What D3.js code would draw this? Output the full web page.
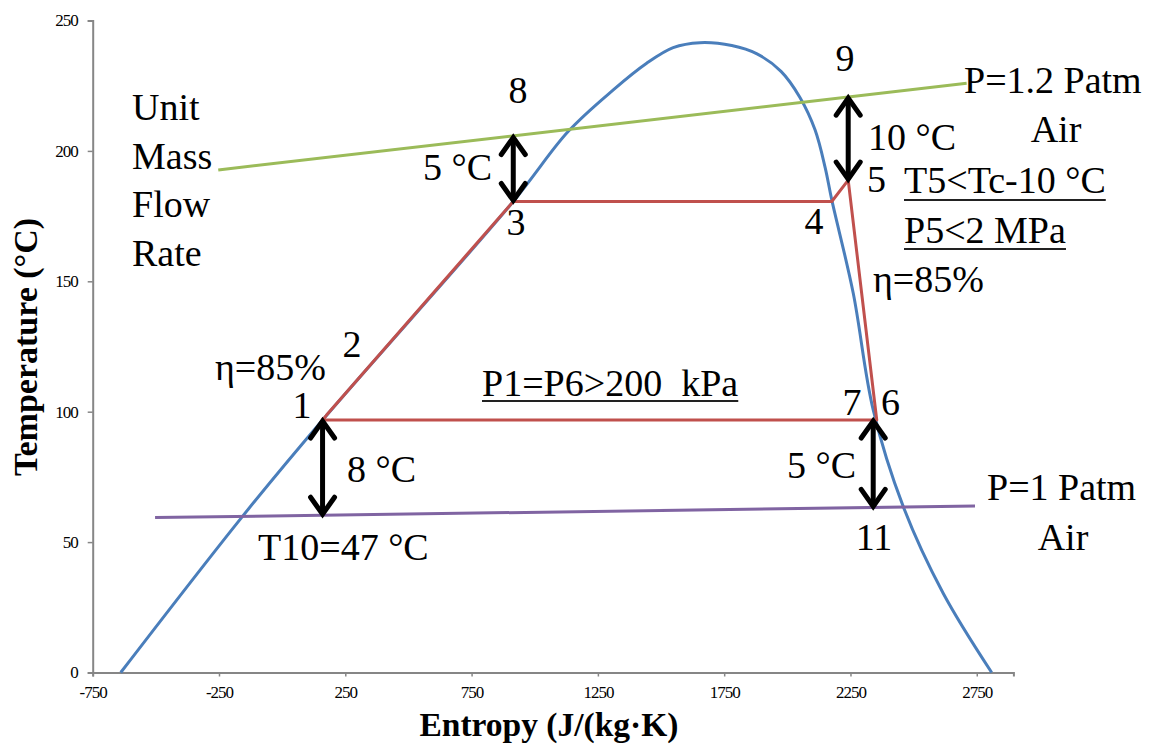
<!DOCTYPE html>
<html>
<head>
<meta charset="utf-8">
<script src="https://cdn.jsdelivr.net/npm/d3@7"></script>
<style>
  html, body { margin: 0; padding: 0; background: #fff; }
  svg { display: block; }
  svg text { font-family: "Liberation Serif", "Times New Roman", Times, "DejaVu Serif", serif; fill: #000; }
</style>
</head>
<body>
<svg id="chart" width="1153" height="746"></svg>
<script>
// Axis ticks
const xTicks = [-750, -250, 250, 750, 1250, 1750, 2250, 2750];
const yTicks = [0, 50, 100, 150, 200, 250];

// Saturation dome of the working fluid (entropy J/(kg·K), temperature °C)
const domeS = [-639, -160, 160, 915, 1133, 1311, 1443, 1548, 1654, 1780, 1880, 1975, 2050, 2110, 2150, 2176, 2261, 2340, 2459, 2617, 2809];
const domeT = [0, 59.5, 96.8, 180.6, 207.5, 223.4, 233.6, 239.6, 241.5, 240.4, 237.2, 230.5, 220.5, 208, 193.5, 181.2, 145.4, 100.7, 63.6, 30.4, 0];

// ORC cycle states 1 → 2 → 3 → 4 → 5 → 6 → 7 → 1
const cycleStates = ["1", "2", "3", "4", "5", "6", "7", "1"];
const cycleS = [160, 175, 915, 2176, 2241, 2354, 2345, 160];
const cycleT = [96.8, 98.6, 180.6, 180.6, 188.8, 96.8, 96.8, 96.8];

// Hot air stream (P = 1.2 Patm) and cold air stream (P = 1 Patm)
const hotAirS = [-253, 2710];
const hotAirT = [192.7, 225.9];
const coldAirS = [-503, 2743];
const coldAirT = [59.4, 63.8];

// Temperature differences marked with double arrows
const gapS = [160, 915, 2241, 2340];
const gapFromT = [96.8, 180.6, 188.8, 96.8];
const gapToT = [60.3, 205.5, 220.6, 63.3];

const FONT = "'Liberation Serif', 'Times New Roman', Times, 'DejaVu Serif', serif";

const svg = d3.select("#chart");

const x = d3.scaleLinear().domain([-750, 2895]).range([92.7, 1013.4]);
const y = d3.scaleLinear().domain([0, 250]).range([672.5, 20.5]);

const axisColor = "#868686";

// Y axis
const yAxis = svg.append("g")
  .attr("transform", `translate(${x(-750)},0)`)
  .call(d3.axisLeft(y).tickValues(yTicks).tickSize(5).tickPadding(10).tickFormat(d3.format("d")));
// X axis
const xAxis = svg.append("g")
  .attr("transform", `translate(0,${y(0)})`)
  .call(d3.axisBottom(x).tickValues(xTicks).tickSize(4).tickPadding(9).tickFormat(d3.format("d")));

[xAxis, yAxis].forEach(g => {
  g.attr("font-family", FONT);
  g.select(".domain").attr("stroke", axisColor).attr("stroke-width", 2);
  g.selectAll(".tick line").attr("stroke", axisColor).attr("stroke-width", 1.5);
  g.selectAll(".tick text")
    .attr("font-family", FONT)
    .style("font-family", FONT)
    .style("font-size", "17px")
    .attr("fill", "#000")
    .style("letter-spacing", "-1px");
});
// Use an ASCII hyphen for negative ticks
xAxis.selectAll(".tick text").text(d => String(d));

// Axis titles
svg.append("text")
  .attr("x", 549).attr("y", 736)
  .attr("text-anchor", "middle")
  .style("font-family", FONT)
  .style("font-size", "33.5px").style("font-weight", "bold")
  .text("Entropy (J/(kg·K)");

svg.append("text")
  .attr("transform", "translate(37,347) rotate(-90)")
  .attr("text-anchor", "middle")
  .style("font-family", FONT)
  .style("font-size", "34px").style("font-weight", "bold")
  .text("Temperature (°C)");

const line = d3.line().x(d => x(d[0])).y(d => y(d[1]));

// Saturation dome
svg.append("path")
  .datum(domeS.map((s, i) => [s, domeT[i]]))
  .attr("fill", "none")
  .attr("stroke", "#4A7EBB")
  .attr("stroke-width", 3)
  .attr("d", d3.line().x(d => x(d[0])).y(d => y(d[1])).curve(d3.curveCatmullRom.alpha(0.5)));

// Air streams
svg.append("path")
  .datum(hotAirS.map((s, i) => [s, hotAirT[i]]))
  .attr("fill", "none").attr("stroke", "#9BBB59").attr("stroke-width", 3)
  .attr("d", line);
svg.append("path")
  .datum(coldAirS.map((s, i) => [s, coldAirT[i]]))
  .attr("fill", "none").attr("stroke", "#8064A2").attr("stroke-width", 3)
  .attr("d", line);

// Cycle
svg.append("path")
  .datum(cycleS.map((s, i) => [s, cycleT[i]]))
  .attr("fill", "none").attr("stroke", "#C0504D").attr("stroke-width", 3)
  .attr("stroke-linejoin", "round")
  .attr("d", line);

// Double-headed arrows
const arrows = svg.append("g")
  .attr("stroke", "#000").attr("fill", "none")
  .attr("stroke-width", 5).attr("stroke-linecap", "round").attr("stroke-linejoin", "miter");

gapS.forEach((s, i) => {
  const px = x(s);
  const yA = y(gapFromT[i]);
  const yB = y(gapToT[i]);
  const top = Math.min(yA, yB) + 1, bot = Math.max(yA, yB) - 1;
  arrows.append("line").attr("x1", px).attr("x2", px).attr("y1", top + 2).attr("y2", bot - 2);
  arrows.append("path").attr("d", `M${px - 12},${top + 17} L${px},${top} L${px + 12},${top + 17}`);
  arrows.append("path").attr("d", `M${px - 12},${bot - 17} L${px},${bot} L${px + 12},${bot - 17}`);
});

// Annotations
const ann = svg.append("g").style("font-size", "38px").style("font-family", FONT);
function label(txt, px, py, anchor, underline) {
  const t = ann.append("text")
    .attr("x", px).attr("y", py)
    .attr("text-anchor", anchor || "start")
    .style("font-family", FONT)
    .style("white-space", "pre")
    .text(txt);
  if (underline) {
    const b = t.node().getBBox();
    ann.append("line")
      .attr("x1", b.x).attr("x2", b.x + b.width)
      .attr("y1", py + underline).attr("y2", py + underline)
      .attr("stroke", "#222").attr("stroke-width", 2);
  }
  return t;
}

["Unit", "Mass", "Flow", "Rate"].forEach((w, i) => label(w, 132, 120 + i * 48.5));

label("8", 518, 103, "middle");
label("5 °C", 423, 180);
label("3", 516, 235, "middle");
label("4", 814, 234, "middle");
label("9", 845, 71, "middle");
label("10 °C", 868, 150);
label("5", 867, 192);
label("P=1.2 Patm", 964, 93);
label("Air", 1056, 142, "middle");
label("T5<Tc-10 °C", 904, 193, "start", 7);
label("P5<2 MPa", 904, 243, "start", 6);
label("η=85%", 873, 292);
label("η=85%", 215, 380);
label("2", 352, 357, "middle");
label("1", 302, 418, "middle");
label("P1=P6>200  kPa", 482, 396, "start", 5);
label("7", 852, 415, "middle");
label("6", 881, 415);
label("8 °C", 347, 482);
label("5 °C", 787, 478);
label("P=1 Patm", 987, 500);
label("11", 874, 550, "middle");
label("Air", 1063, 550, "middle");
label("T10=47 °C", 258, 560);
</script>
</body>
</html>
